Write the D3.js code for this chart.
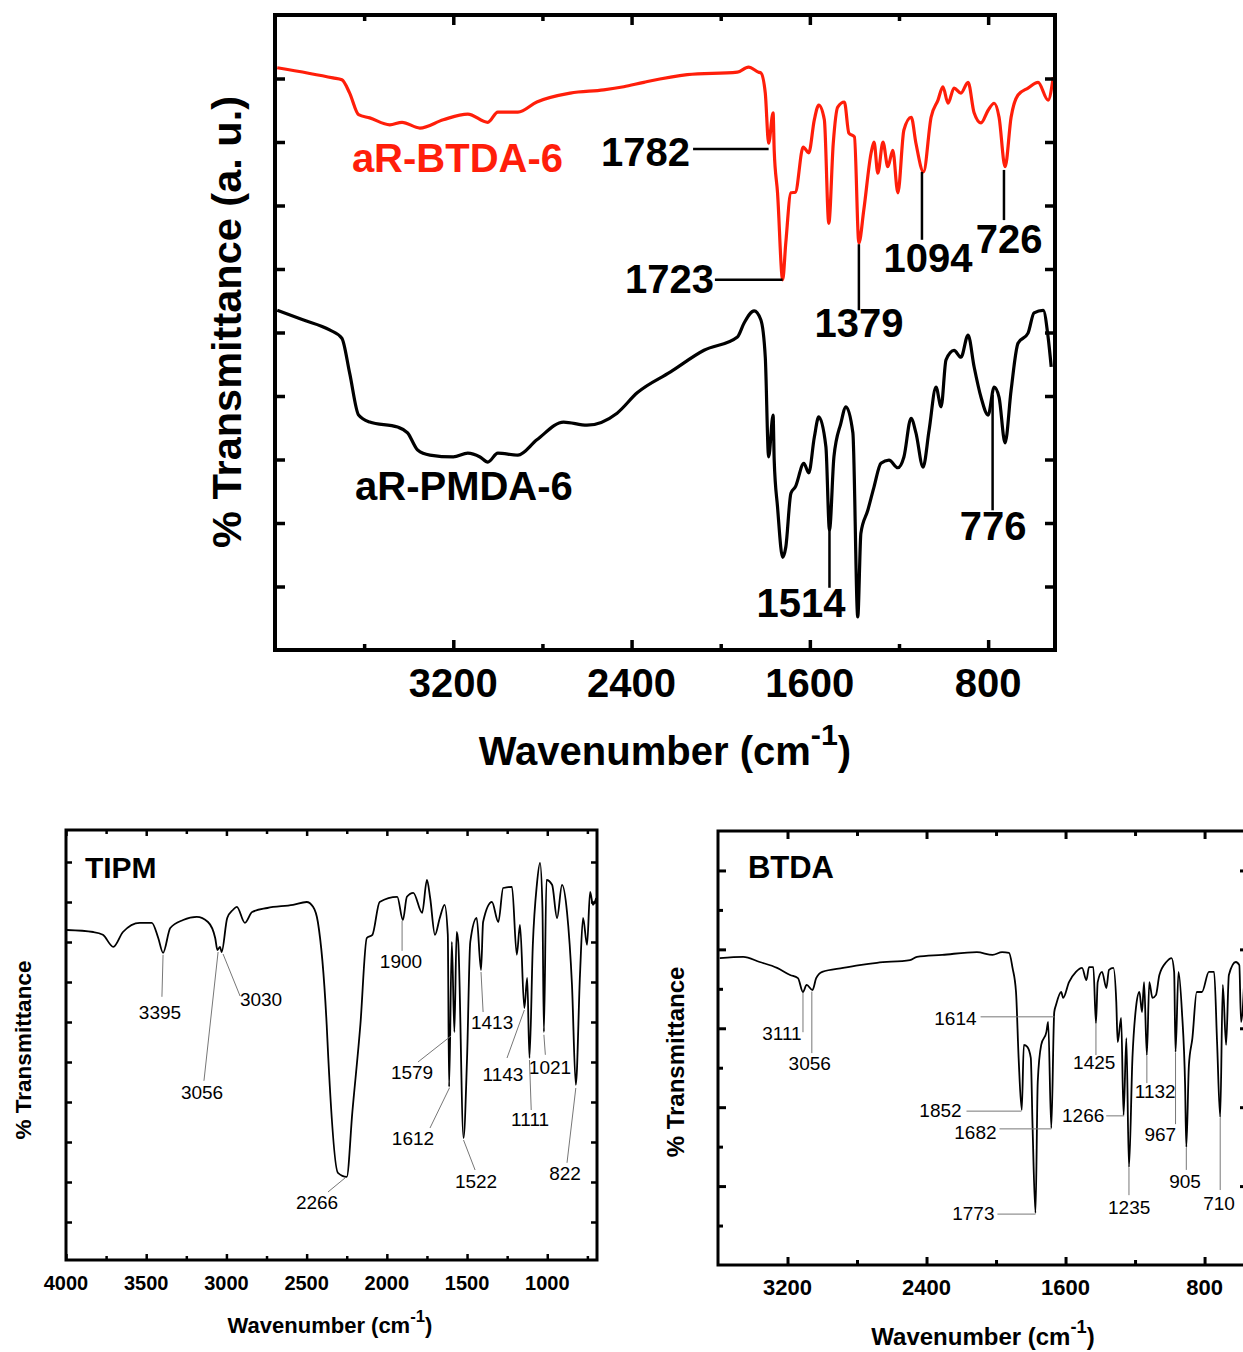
<!DOCTYPE html>
<html>
<head>
<meta charset="utf-8">
<script src="https://cdn.jsdelivr.net/npm/d3@7"></script>
<style>
body { margin: 0; background: #fff; }
svg { display: block; }
text { font-family: "Liberation Sans", Arial, sans-serif; }
</style>
</head>
<body>
<svg id="chart" width="1243" height="1352"></svg>
<script>
// ---- top panel: aR-BTDA-6 (red) and aR-PMDA-6 (black), a.u. ----
var btda6Wn = [3990,3740,3700,3665,3625,3575,3485,3430,3350,3245,3135,3045,3000,2910,2825,2675,2525,2435,2345,2150,
  1925,1875,1830,1820,1800,1785,1765,1760,1745,1722,1708,1685,1665,1630,1605,1580,1560,1535,1515,1495,
  1475,1445,1425,1400,1380,1358,1325,1312,1295,1272,1250,1228,1205,1178,1145,1124,1090,1056,1025,1003,
  980,953,922,890,863,832,800,773,751,724,697,666,621,576,531,508];
var btda6T = [9.17,9.01,8.98,8.77,8.43,8.38,8.27,8.31,8.22,8.35,8.44,8.31,8.47,8.47,8.63,8.77,8.82,8.87,8.94,9.06,
  9.10,9.18,9.10,9.09,8.77,7.98,8.46,7.87,7.20,5.83,6.41,7.20,7.21,7.92,7.83,8.35,8.58,8.35,6.72,7.98,
  8.55,8.63,8.14,8.08,6.41,6.93,7.83,8.00,7.51,8.00,7.61,7.87,7.20,8.19,8.39,7.98,7.53,8.39,8.66,8.87,
  8.61,8.85,8.77,8.94,8.46,8.30,8.50,8.61,8.39,7.61,8.39,8.74,8.85,8.94,8.66,9.02];

var pmda6Wn = [3990,3875,3755,3700,3665,3625,3575,3450,3405,3360,3305,3200,3135,3080,3045,3000,2910,2825,2705,2600,
  2465,2375,2225,2075,1925,1895,1850,1820,1800,1785,1765,1760,1745,1722,1708,1685,1665,1627,1605,1580,
  1560,1528,1512,1492,1461,1438,1407,1385,1371,1340,1312,1281,1245,1205,1178,1146,1124,1092,1065,1034,
  1011,989,953,922,890,863,832,800,773,751,724,697,666,621,594,553,531,517];
var pmda6T = [5.35,5.20,5.04,4.91,4.36,3.70,3.59,3.51,3.42,3.15,3.07,3.04,3.10,3.04,2.96,3.10,3.07,3.31,3.59,3.54,
  3.73,4.05,4.38,4.72,4.93,5.15,5.34,5.20,4.61,3.04,3.70,2.99,2.25,1.46,1.62,2.47,2.57,2.94,2.79,3.35,
  3.67,3.20,1.89,3.04,3.57,3.83,3.42,0.52,1.84,2.20,2.57,2.94,2.99,2.87,3.04,3.65,3.42,2.88,3.46,4.14,
  3.83,4.57,4.72,4.61,4.96,4.46,3.98,3.70,4.14,3.98,3.26,4.09,4.83,4.99,5.31,5.35,4.93,4.46];

// ---- bottom left: TIPM ----
var tipmWn = [3995,3830,3770,3705,3645,3540,3465,3425,3395,3350,3270,3185,3115,3070,3056,3040,3030,2995,2960,2935,
  2885,2840,2745,2585,2500,2460,2430,2375,2365,2305,2250,2215,2165,2125,2090,2045,1935,1900,1875,1835,
  1780,1750,1730,1700,1670,1640,1620,1612,1595,1579,1565,1555,1522,1500,1480,1440,1413,1400,1345,1305,
  1275,1220,1190,1170,1143,1125,1111,1090,1065,1045,1030,1021,1005,970,939,908,877,846,822,796,
  777,752,733,715,695];
var tipmT = [8.30,8.25,8.18,7.88,8.25,8.48,8.48,8.10,7.73,8.35,8.55,8.63,8.50,8.10,7.80,7.88,7.75,8.60,8.80,8.88,
  8.48,8.75,8.85,8.93,9.00,8.88,8.50,5.93,5.10,2.23,2.13,3.75,5.93,8.10,8.18,9.00,9.13,8.55,9.13,9.23,
  8.73,9.55,9.10,8.18,8.60,8.93,8.18,4.38,8.00,5.75,8.25,8.00,3.10,5.10,8.00,8.60,7.30,8.50,9.00,8.50,
  9.35,9.38,7.68,8.43,6.35,7.10,5.10,7.93,9.43,9.98,8.85,5.75,9.55,9.43,8.60,9.43,8.75,6.93,4.43,7.18,
  8.60,7.93,9.25,8.93,9.10];

// ---- bottom right: BTDA ----
var btdaWn = [3590,3455,3360,3260,3185,3140,3111,3090,3056,3035,3000,2880,2785,2685,2495,2455,2310,2110,2020,1965,
  1925,1905,1885,1870,1852,1840,1820,1800,1790,1773,1760,1740,1710,1700,1682,1665,1655,1625,1614,1580,
  1540,1505,1480,1465,1440,1425,1415,1390,1365,1350,1325,1308,1300,1280,1266,1250,1235,1215,1195,1175,
  1160,1148,1132,1118,1100,1080,1060,1020,990,975,967,950,930,912,905,890,870,845,815,775,
  745,728,710,695,676,660,620,600,590,570];
var btdaT = [7.78,7.81,7.68,7.53,7.35,7.27,6.92,7.10,6.97,7.27,7.43,7.53,7.60,7.66,7.73,7.81,7.86,7.93,7.86,7.93,
  7.91,7.53,6.92,5.25,3.93,5.58,5.53,5.25,3.55,1.32,4.64,5.58,5.91,6.16,3.47,6.41,6.59,6.92,6.77,7.17,
  7.43,7.53,7.22,7.55,7.55,6.13,7.17,7.43,7.02,7.48,7.53,6.67,5.65,6.26,3.80,5.75,2.48,5.25,6.51,6.92,
  6.41,7.17,5.32,7.17,6.77,6.84,7.35,7.68,7.78,7.43,5.40,7.43,6.41,4.56,2.99,5.07,5.75,6.92,6.92,7.43,
  7.43,5.65,3.75,7.10,5.58,7.35,7.68,7.60,6.16,7.35];

// tick labels
var topXLabels = [3200, 2400, 1600, 800];
var tipmXLabels = [4000, 3500, 3000, 2500, 2000, 1500, 1000];
var btdaXLabels = [3200, 2400, 1600, 800];

// peak annotations: text position, then the leader line (wavenumber, value)
var topPeaks = [
  { t: "1782", w: 2138, v: 7.62, a: "end", line: [[2124, 7.89], [1785, 7.89]] },
  { t: "1723", w: 2030, v: 5.62, a: "end", line: [[2026, 5.83], [1722, 5.83]] },
  { t: "1379", w: 1380, v: 4.93, a: "middle", line: [[1380, 6.39], [1380, 5.35]] },
  { t: "1094", w: 1070, v: 5.95, a: "middle", line: [[1097, 7.53], [1097, 6.46]] },
  { t: "726", w: 706, v: 6.25, a: "middle", line: [[729, 7.56], [729, 6.77]] },
  { t: "1514", w: 1640, v: 0.52, a: "middle", line: [[1512, 1.89], [1512, 0.98]] },
  { t: "776", w: 778, v: 1.73, a: "middle", line: [[780, 4.02], [780, 2.20]] }
];
var tipmPeaks = [
  { t: "3395", w: 3414, v: 6.08, line: [[3395, 7.68], [3402, 6.63]] },
  { t: "3056", w: 3152, v: 4.08, line: [[3052, 7.75], [3140, 4.53]] },
  { t: "3030", w: 2784, v: 6.40, line: [[3021, 7.70], [2915, 6.65]] },
  { t: "2266", w: 2435, v: 1.33, line: [[2261, 2.10], [2367, 1.75]] },
  { t: "1900", w: 1912, v: 7.35, line: [[1905, 8.53], [1905, 7.78]] },
  { t: "1579", w: 1843, v: 4.58, line: [[1600, 5.65], [1806, 5.00]] },
  { t: "1612", w: 1837, v: 2.93, line: [[1610, 4.35], [1731, 3.35]] },
  { t: "1522", w: 1444, v: 1.85, line: [[1522, 3.05], [1450, 2.30]] },
  { t: "1413", w: 1344, v: 5.83, line: [[1413, 7.25], [1400, 6.25]] },
  { t: "1143", w: 1276, v: 4.53, line: [[1143, 6.30], [1251, 5.10]] },
  { t: "1021", w: 983, v: 4.70, line: [[1021, 5.68], [1012, 5.18]] },
  { t: "1111", w: 1107, v: 3.40, line: [[1111, 5.05], [1100, 3.80]] },
  { t: "822", w: 889, v: 2.05, line: [[822, 4.35], [877, 2.48]] }
];
var btdaPeaks = [
  { t: "3111", w: 3232, v: 5.70, a: "middle", line: [[3111, 6.90], [3111, 5.90]] },
  { t: "3056", w: 3072, v: 4.94, a: "middle", line: [[3060, 6.93], [3060, 5.37]] },
  { t: "1614", w: 2112, v: 6.08, a: "end", line: [[2089, 6.29], [1664, 6.29]] },
  { t: "1852", w: 2198, v: 3.75, a: "end", line: [[2170, 3.90], [1854, 3.90]] },
  { t: "1682", w: 1997, v: 3.19, a: "end", line: [[1980, 3.45], [1682, 3.45]] },
  { t: "1773", w: 2009, v: 1.14, a: "end", line: [[1992, 1.29], [1773, 1.29]] },
  { t: "1425", w: 1435, v: 4.97, a: "middle", line: [[1425, 6.13], [1425, 5.32]] },
  { t: "1266", w: 1377, v: 3.62, a: "end", line: [[1366, 3.78], [1262, 3.78]] },
  { t: "1132", w: 1084, v: 4.23, a: "middle", line: [[1132, 5.30], [1132, 4.61]] },
  { t: "967", w: 1055, v: 3.14, a: "middle", line: [[967, 5.38], [967, 3.57]] },
  { t: "905", w: 912, v: 1.95, a: "middle", line: [[905, 2.97], [905, 2.41]] },
  { t: "1235", w: 1234, v: 1.29, a: "middle", line: [[1235, 2.46], [1235, 1.77]] },
  { t: "710", w: 717, v: 1.39, a: "middle", line: [[710, 3.73], [710, 1.90]] }
];

var svg = d3.select("#chart");
svg.append("rect").attr("width", 1243).attr("height", 1352).attr("fill", "#fff");

function zip(a, b) { return a.map(function (d, i) { return [d, b[i]]; }); }

function drawTicks(g, x, y, o) {
    var x0 = x.range()[0], x1 = x.range()[1], yb = y.range()[0], yt = y.range()[1];
    var specs = [
        [d3.axisBottom(x), "translate(0," + yb + ")", o.xMajor, o.xMinor],
        [d3.axisTop(x), "translate(0," + yt + ")", o.xMajor, o.xMinor],
        [d3.axisLeft(y), "translate(" + x0 + ",0)", o.yMajor, o.yMinor],
        [d3.axisRight(y), "translate(" + x1 + ",0)", o.yMajor, o.yMinor]
    ];
    specs.forEach(function (s) {
        [[s[2], o.major], [s[3], o.minor]].forEach(function (p) {
            if (!p[0] || !p[0].length) return;
            var ax = s[0].tickValues(p[0]).tickSize(-p[1]).tickFormat("");
            var a = g.append("g").attr("transform", s[1]).call(ax);
            a.select(".domain").remove();
            a.selectAll("line").attr("stroke", "#000").attr("stroke-width", o.tickWidth);
        });
    });
    g.append("rect")
        .attr("x", x0).attr("y", yt)
        .attr("width", x1 - x0).attr("height", yb - yt)
        .attr("fill", "none").attr("stroke", "#000").attr("stroke-width", o.frameWidth);
}

function xTitle(g, cx, by, size) {
    var t = g.append("text").attr("x", cx).attr("y", by)
        .attr("text-anchor", "middle").attr("font-weight", "bold").attr("font-size", size);
    t.append("tspan").text("Wavenumber (cm");
    t.append("tspan").attr("font-size", size * 0.76).attr("dy", -size * 0.5).text("-1");
    t.append("tspan").attr("dy", size * 0.5).text(")");
}

function yTitle(g, bx, cy, size, label) {
    g.append("text").attr("transform", "translate(" + bx + "," + cy + ") rotate(-90)")
        .attr("text-anchor", "middle").attr("font-weight", "bold").attr("font-size", size)
        .text(label);
}

function peakLabels(g, x, y, peaks, o) {
    peaks.forEach(function (p) {
        g.append("line")
            .attr("x1", x(p.line[0][0])).attr("y1", y(p.line[0][1]))
            .attr("x2", x(p.line[1][0])).attr("y2", y(p.line[1][1]))
            .attr("stroke", o.lineColor).attr("stroke-width", o.lineWidth);
        g.append("text").attr("x", x(p.w)).attr("y", y(p.v))
            .attr("text-anchor", p.a || "middle")
            .attr("font-size", o.size).attr("font-weight", o.weight)
            .attr("fill", "#000").text(p.t);
    });
}

var line = function (x, y) {
    return d3.line().curve(d3.curveMonotoneX)
        .x(function (d) { return x(d[0]); }).y(function (d) { return y(d[1]); });
};

// ================= top panel =================
var gTop = svg.append("g");
var xTop = d3.scaleLinear().domain([4000, 500]).range([275, 1055]);
var yTop = d3.scaleLinear().domain([0, 10]).range([650, 15]);

gTop.append("path").datum(zip(btda6Wn, btda6T))
    .attr("d", line(xTop, yTop)).attr("fill", "none")
    .attr("stroke", "#ff1e0a").attr("stroke-width", 3.2).attr("stroke-linejoin", "round");
gTop.append("path").datum(zip(pmda6Wn, pmda6T))
    .attr("d", line(xTop, yTop)).attr("fill", "none")
    .attr("stroke", "#000").attr("stroke-width", 3.2).attr("stroke-linejoin", "round");

drawTicks(gTop, xTop, yTop, {
    xMajor: [3200, 2400, 1600, 800], xMinor: [3600, 2800, 2000, 1200],
    yMajor: d3.range(1, 10), yMinor: [],
    major: 10, minor: 6, tickWidth: 3.5, frameWidth: 4
});

gTop.selectAll(".xlab").data(topXLabels).enter().append("text")
    .attr("x", function (d) { return xTop(d); }).attr("y", 697)
    .attr("text-anchor", "middle").attr("font-weight", "bold").attr("font-size", 40)
    .text(function (d) { return d; });

xTitle(gTop, 665, 765, 40);
yTitle(gTop, 241, 322, 41.5, "% Transmittance (a. u.)");

gTop.append("text").attr("x", xTop(3655)).attr("y", yTop(7.53))
    .attr("font-weight", "bold").attr("font-size", 40).attr("fill", "#ff1e0a").text("aR-BTDA-6");
gTop.append("text").attr("x", xTop(3641)).attr("y", yTop(2.36))
    .attr("font-weight", "bold").attr("font-size", 40).attr("fill", "#000").text("aR-PMDA-6");

peakLabels(gTop, xTop, yTop, topPeaks, { lineColor: "#000", lineWidth: 2.5, size: 40, weight: "bold" });

// ================= bottom left: TIPM =================
var gL = svg.append("g");
var xL = d3.scaleLinear().domain([4000, 690]).range([66, 597]);
var yL = d3.scaleLinear().domain([0.05, 10.8]).range([1260, 830]);

gL.append("path").datum(zip(tipmWn, tipmT))
    .attr("d", line(xL, yL)).attr("fill", "none")
    .attr("stroke", "#000").attr("stroke-width", 1.8).attr("stroke-linejoin", "round");

drawTicks(gL, xL, yL, {
    xMajor: [4000, 3500, 3000, 2500, 2000, 1500, 1000], xMinor: [3750, 3250, 2750, 2250, 1750, 1250, 750],
    yMajor: d3.range(1, 11), yMinor: [],
    major: 6, minor: 4, tickWidth: 2.5, frameWidth: 3
});

gL.selectAll(".xlab").data(tipmXLabels).enter().append("text")
    .attr("x", function (d) { return xL(d); }).attr("y", 1290)
    .attr("text-anchor", "middle").attr("font-weight", "bold").attr("font-size", 20)
    .text(function (d) { return d; });

xTitle(gL, 330, 1333, 22);
yTitle(gL, 31, 1050, 22.5, "% Transmittance");

gL.append("text").attr("x", xL(3882)).attr("y", yL(9.6))
    .attr("font-weight", "bold").attr("font-size", 30).text("TIPM");

peakLabels(gL, xL, yL, tipmPeaks, { lineColor: "#777", lineWidth: 1, size: 19, weight: "normal" });

// ================= bottom right: BTDA =================
var gR = svg.append("g");
var xR = d3.scaleLinear().domain([3600, 550]).range([718, 1248]);
var yR = d3.scaleLinear().domain([0, 11]).range([1265, 831]);

gR.append("path").datum(zip(btdaWn, btdaT))
    .attr("d", line(xR, yR)).attr("fill", "none")
    .attr("stroke", "#000").attr("stroke-width", 1.8).attr("stroke-linejoin", "round");

drawTicks(gR, xR, yR, {
    xMajor: [3200, 2400, 1600, 800], xMinor: [2800, 2000, 1200],
    yMajor: [2, 4, 6, 8, 10], yMinor: [1, 3, 5, 7, 9],
    major: 8, minor: 5, tickWidth: 3, frameWidth: 3
});

gR.selectAll(".xlab").data(btdaXLabels).enter().append("text")
    .attr("x", function (d) { return xR(d); }).attr("y", 1295)
    .attr("text-anchor", "middle").attr("font-weight", "bold").attr("font-size", 22)
    .text(function (d) { return d; });

xTitle(gR, 983, 1345, 24);
yTitle(gR, 684, 1062, 24, "% Transmittance");

gR.append("text").attr("x", xR(3428)).attr("y", yR(9.81))
    .attr("font-weight", "bold").attr("font-size", 31).text("BTDA");

peakLabels(gR, xR, yR, btdaPeaks, { lineColor: "#777", lineWidth: 1, size: 19, weight: "normal" });
</script>
</body>
</html>
